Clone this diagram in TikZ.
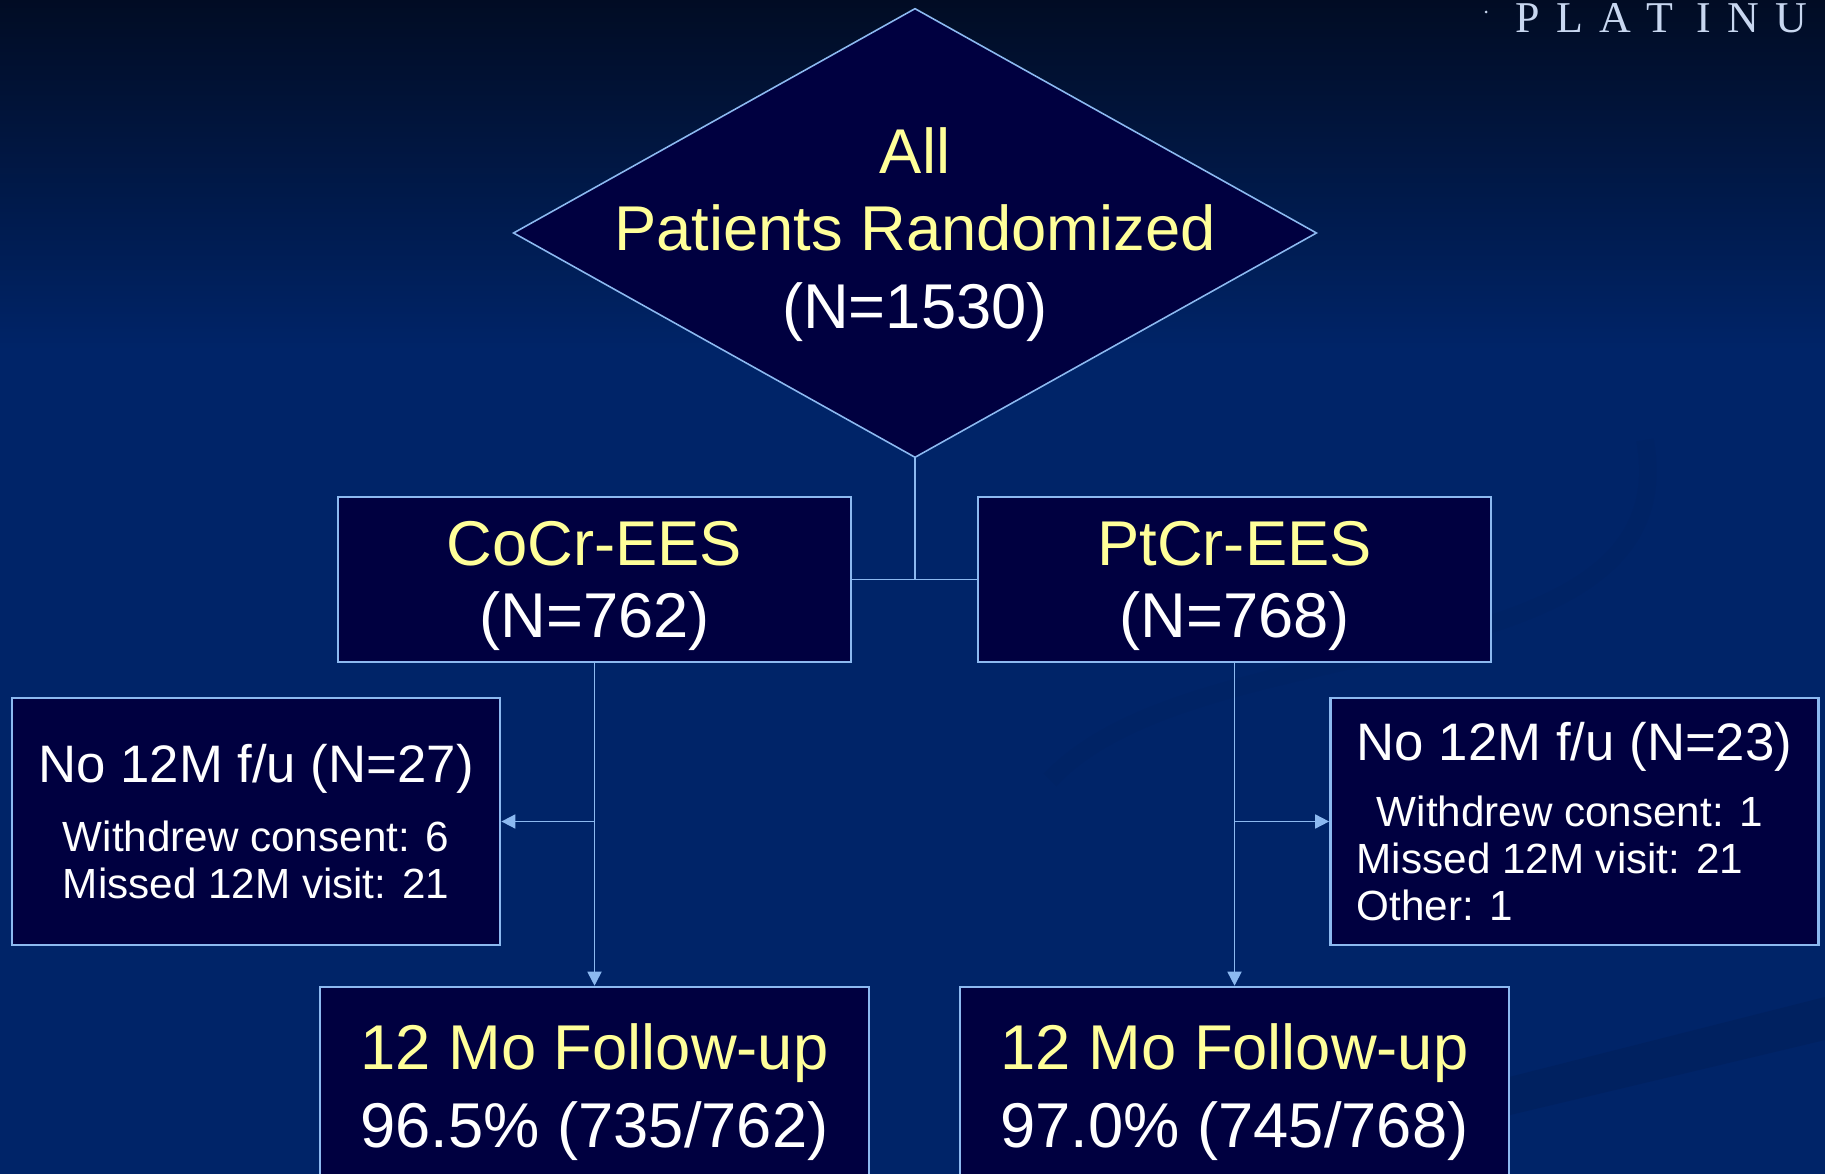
\documentclass[tikz,border=0pt]{standalone}
\usepackage{fontspec}
\setmainfont{Liberation Sans}
\newfontfamily\logofont{Liberation Serif}
\usetikzlibrary{shapes.geometric, arrows.meta, positioning}

\definecolor{bgtop}{RGB}{1,12,36}
\definecolor{bgbot}{RGB}{0,36,104}
\definecolor{boxfill}{RGB}{0,0,64}
\definecolor{edge}{RGB}{140,185,240}
\definecolor{hilite}{RGB}{255,255,153}
\definecolor{logo}{RGB}{200,215,240}

\begin{document}
\begin{tikzpicture}[
    x=0.01cm, y=-0.01cm,
    decision/.style={diamond, draw=edge, line width=0.45pt, fill=boxfill, minimum width=8.03cm, minimum height=4.49cm, inner sep=0pt},
    armbox/.style={rectangle, draw=edge, line width=0.7pt, fill=boxfill, minimum width=5.13cm, minimum height=1.65cm, align=center, text=white, text depth=0pt, font=\fontsize{18}{20.3}\selectfont},
    lossbox/.style={rectangle, draw=edge, line width=0.7pt, fill=boxfill, minimum width=4.88cm, minimum height=2.47cm, text=white, font=\fontsize{12}{13.3}\selectfont},
    fubox/.style={rectangle, draw=edge, line width=0.7pt, fill=boxfill, minimum width=5.49cm, minimum height=1.97cm, align=center, text=white, text depth=0pt, font=\fontsize{18}{22}\selectfont},
    link/.style={draw=edge, line width=0.5pt},
    arrow/.style={link, -{Triangle[length=1.4mm, width=1.4mm]}},
    logotxt/.style={text=logo, font=\logofont\fontsize{12.5}{13}\selectfont, anchor=base, inner sep=0pt}
  ]
  % Frame and background
  \useasboundingbox (0,0) rectangle (1825,1174);
  \clip (0,0) rectangle (1825,1174);
  \shade[top color=bgtop, bottom color=bgbot] (0,0) rectangle (1825,350);
  \fill[bgbot] (0,350) rectangle (1825,1174);
  \draw[bgbot!80!black, line width=5pt, opacity=0.12] (1050,780) .. controls (1200,620) and (1690,690) .. (1645,440);
  \fill[bgbot!92!black] (1300,1130) -- (1825,997) -- (1825,1040) -- (1300,1165) -- cycle;

  % Logo
  \fill[logo] (1486,12) circle (1.5);
  \foreach \ch/\xx in {P/1528, L/1570, A/1615, T/1660, I/1704, N/1743, U/1791}
    \node[logotxt] (logo\ch) at (\xx,33) {\ch};

  % Randomization
  \node[decision] (all) at (915,233) {};
  \node[align=center, text=white, text depth=0pt, font=\fontsize{18}{22}\selectfont] (alltext) at ([yshift=0.05cm]all.center)
    {\textcolor{hilite}{All}\\\textcolor{hilite}{Patients Randomized}\\(N=1530)};

  % Arms
  \node[armbox] (cocr) at (594.5,579.5) {\textcolor{hilite}{CoCr-EES}\\(N=762)};
  \node[armbox] (ptcr) at (1234.5,579.5) {\textcolor{hilite}{PtCr-EES}\\(N=768)};

  % Lost to follow-up
  \node[lossbox, align=center] (loss1) at (256,821.5)
    {{\fontsize{15}{18}\selectfont No 12M f/u (N=27)}\\[6.5pt]
     Withdrew consent: 6\\Missed 12M visit: 21};
  \node[lossbox, align=left] (loss2) at (1574.5,821.5)
    {{\fontsize{15}{18}\selectfont No 12M f/u (N=23)}\\[5.5pt]
     \hspace*{0.2cm}Withdrew consent: 1\\Missed 12M visit: 21\\Other: 1};

  % 12 month follow-up
  \node[fubox] (fu1) at (594.5,1085.5) {\textcolor{hilite}{12 Mo Follow-up}\\96.5\% (735/762)};
  \node[fubox] (fu2) at (1234.5,1085.5) {\textcolor{hilite}{12 Mo Follow-up}\\97.0\% (745/768)};

  % Connections
  \draw[link] (all.south) -- (all.south |- cocr.east);
  \draw[link] (cocr.east) -- (ptcr.west);
  \draw[arrow] (cocr.south) -- (fu1.north);
  \draw[arrow] (ptcr.south) -- (fu2.north);
  \draw[arrow] (cocr.south |- loss1.east) -- (loss1.east);
  \draw[arrow] (ptcr.south |- loss2.west) -- (loss2.west);
\end{tikzpicture}
\end{document}
